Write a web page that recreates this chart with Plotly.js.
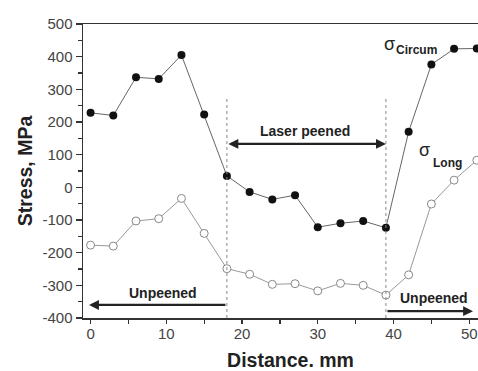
<!DOCTYPE html>
<html>
<head>
<meta charset="utf-8">
<script src="https://cdn.plot.ly/plotly-3.0.1.min.js"></script>
<style>
html,body{margin:0;padding:0;overflow:hidden;background:#fff;}
#chart{width:498px;height:371px;}
</style>
</head>
<body>
<div id="chart"></div>
<script>
// Distance positions (mm)
const distance = [0, 3, 6, 9, 12, 15, 18, 21, 24, 27, 30, 33, 36, 39, 42, 45, 48, 51];
// Circumferential stress (MPa)
const sigmaCircum = [228, 220, 337, 332, 405, 223, 35, -14, -37, -24, -122, -110, -103, -124, 170, 376, 424, 425];
// Longitudinal stress (MPa)
const sigmaLong = [-177, -180, -103, -96, -34, -141, -249, -266, -297, -295, -317, -294, -300, -330, -268, -51, 22, 83];

// Tick values and labels
const xTickVals = [0, 10, 20, 30, 40, 50];
const xTickText = ['0', '10', '20', '30', '40', '50'];
const yTickVals = [-400, -300, -200, -100, 0, 100, 200, 300, 400, 500];
const yTickText = ['-400', '-300', '-200', '-100', '0', '100', '200', '300', '400', '500'];

// Region boundaries (mm)
const peenStart = 18;
const peenEnd = 39;

const traces = [
  {
    x: distance, y: sigmaCircum, name: 'σ Circum', mode: 'lines+markers',
    line: {color: '#666', width: 1},
    marker: {color: '#111', size: 8, line: {color: '#111', width: 0}}
  },
  {
    x: distance, y: sigmaLong, name: 'σ Long', mode: 'lines+markers',
    line: {color: '#999', width: 1},
    marker: {color: '#fff', size: 8, line: {color: '#888', width: 1}}
  }
];

const tickFont = {family: 'Liberation Sans, Arial, sans-serif', size: 15, color: '#444'};
const titleFont = {family: 'Liberation Sans, Arial, sans-serif', size: 19.5, color: '#222', weight: 'bold'};
const labelFont = {family: 'Liberation Sans, Arial, sans-serif', size: 14, color: '#222', weight: 'bold'};
const sigmaFont = {family: 'Liberation Sans, Arial, sans-serif', size: 18, color: '#222'};
const subFont = {family: 'Liberation Sans, Arial, sans-serif', size: 12, color: '#222', weight: 'bold'};

const layout = {
  width: 498, height: 371,
  margin: {l: 83, r: 0, t: 24, b: 53},
  paper_bgcolor: '#fff', plot_bgcolor: '#fff',
  showlegend: false,
  xaxis: {
    range: [-1, 53.8], showgrid: false, zeroline: false,
    showline: true, linecolor: '#333', linewidth: 1.5, mirror: true,
    ticks: 'outside', ticklen: 4, tickwidth: 1.2, tickcolor: '#333',
    tickmode: 'array', tickvals: xTickVals, ticktext: xTickText,
    ticklabelstandoff: -3,
    minor: {ticks: 'outside', ticklen: 4, tick0: 0, dtick: 5, tickcolor: '#333', tickwidth: 1.2},
    tickfont: tickFont,
    title: {text: 'Distance. mm', font: titleFont, standoff: 13}
  },
  yaxis: {
    range: [-400, 500], showgrid: false, zeroline: false,
    showline: true, linecolor: '#333', linewidth: 1.5, mirror: false,
    ticks: 'outside', ticklen: 6, tickwidth: 1.2, tickcolor: '#333',
    tickmode: 'array', tickvals: yTickVals, ticktext: yTickText,
    minor: {ticks: 'outside', ticklen: 4, tick0: 0, dtick: 50, tickcolor: '#333', tickwidth: 1.2},
    tickfont: tickFont,
    title: {text: 'Stress, MPa', font: titleFont, standoff: 4}
  },
  shapes: [
    {type: 'line', xref: 'x', yref: 'y', x0: peenStart, x1: peenStart, y0: -400, y1: 273,
     line: {color: '#888', width: 1, dash: 'dot'}},
    {type: 'line', xref: 'x', yref: 'y', x0: peenEnd, x1: peenEnd, y0: -400, y1: 273,
     line: {color: '#888', width: 1, dash: 'dot'}}
  ],
  annotations: [
    // Laser peened double arrow
    {x: peenEnd, y: 133, ax: peenStart, ay: 133, xref: 'x', yref: 'y', axref: 'x', ayref: 'y',
     text: '', showarrow: true, arrowside: 'end+start', arrowhead: 2, arrowsize: 0.9, arrowwidth: 2.2, arrowcolor: '#222'},
    {x: 28.3, y: 171, xref: 'x', yref: 'y', text: 'Laser peened', showarrow: false, font: labelFont},
    // Left unpeened arrow
    {x: -0.2, y: -360, ax: peenStart, ay: -360, xref: 'x', yref: 'y', axref: 'x', ayref: 'y',
     text: '', showarrow: true, arrowhead: 2, arrowsize: 0.9, arrowwidth: 2.2, arrowcolor: '#222'},
    {x: 9.6, y: -323, xref: 'x', yref: 'y', text: 'Unpeened', showarrow: false, font: labelFont},
    // Right unpeened arrow
    {x: 50.5, y: -379, ax: peenEnd, ay: -379, xref: 'x', yref: 'y', axref: 'x', ayref: 'y',
     text: '', showarrow: true, arrowhead: 2, arrowsize: 0.9, arrowwidth: 2.2, arrowcolor: '#222'},
    {x: 45.4, y: -338, xref: 'x', yref: 'y', text: 'Unpeened', showarrow: false, font: labelFont},
    // Series labels
    {x: 39.5, y: 440, xref: 'x', yref: 'y', text: 'σ', showarrow: false, font: sigmaFont},
    {x: 43.1, y: 419, xref: 'x', yref: 'y', text: 'Circum', showarrow: false, font: subFont},
    {x: 44.1, y: 114, xref: 'x', yref: 'y', text: 'σ', showarrow: false, font: sigmaFont},
    {x: 47.1, y: 76, xref: 'x', yref: 'y', text: 'Long', showarrow: false, font: subFont}
  ]
};

Plotly.newPlot('chart', traces, layout, {displayModeBar: false, staticPlot: true});
</script>
</body>
</html>
